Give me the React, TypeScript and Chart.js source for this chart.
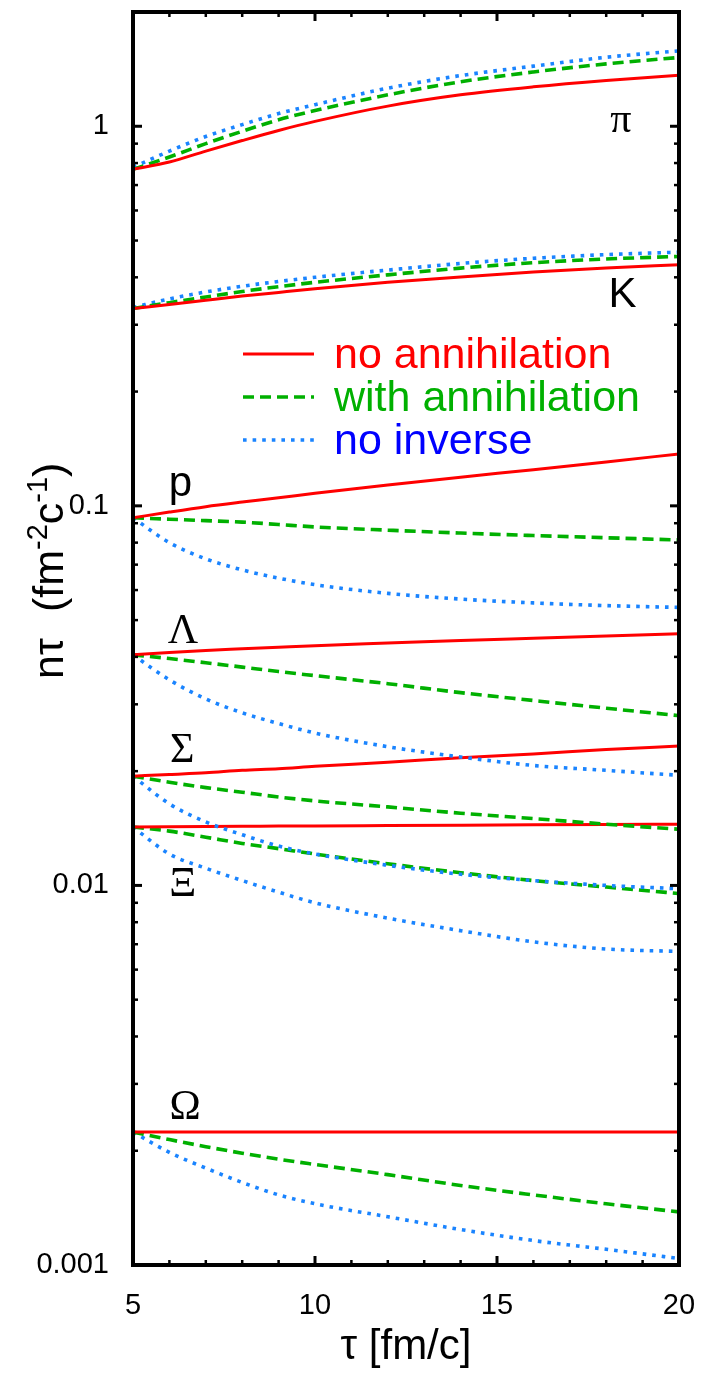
import React, { useEffect, useRef } from 'react';
import { Chart, registerables } from 'chart.js';

Chart.register(...registerables);

// ---------- data ----------
const tau = [5, 6, 7, 8, 9, 10, 12, 14, 16, 18, 20];

const piNoAnn = [0.77, 0.805, 0.86, 0.917, 0.975, 1.03, 1.13, 1.21, 1.27, 1.32, 1.363];
const piWithAnn = [0.77, 0.83, 0.9, 0.97, 1.04, 1.1, 1.21, 1.31, 1.39, 1.46, 1.518];
const piNoInv = [0.78, 0.86, 0.94, 1.01, 1.08, 1.14, 1.26, 1.36, 1.44, 1.52, 1.58];

const kNoAnn = [0.331, 0.339, 0.348, 0.357, 0.365, 0.373, 0.388, 0.401, 0.413, 0.423, 0.432];
const kWithAnn = [0.331, 0.343, 0.355, 0.367, 0.378, 0.388, 0.406, 0.423, 0.437, 0.447, 0.454];
const kNoInv = [0.333, 0.351, 0.366, 0.379, 0.39, 0.4, 0.418, 0.435, 0.449, 0.459, 0.466];

const pNoAnn = [0.093, 0.0963, 0.0995, 0.1023, 0.105, 0.108, 0.1135, 0.119, 0.1245, 0.1305, 0.137];
const pWithAnn = [0.093, 0.0922, 0.0914, 0.0906, 0.0893, 0.088, 0.0863, 0.0848, 0.0835, 0.0824, 0.0813];
const pNoInv = [0.093, 0.08, 0.0725, 0.0678, 0.0645, 0.062, 0.0588, 0.0568, 0.0555, 0.0546, 0.054];

const lamNoAnn = [0.0405, 0.0411, 0.0416, 0.042, 0.0424, 0.0428, 0.0435, 0.0442, 0.0448, 0.0454, 0.046];
const lamWithAnn = [0.0405, 0.0396, 0.0386, 0.0376, 0.0366, 0.0357, 0.034, 0.0322, 0.0307, 0.0293, 0.028];
const lamNoInv = [0.0405, 0.0348, 0.031, 0.0285, 0.0267, 0.0252, 0.0232, 0.0218, 0.0207, 0.0201, 0.0195];

const sigNoAnn = [0.0194, 0.0196, 0.0198, 0.0201, 0.0203, 0.0206, 0.0211, 0.0217, 0.0222, 0.0228, 0.0233];
const sigWithAnn = [0.0194, 0.0187, 0.0181, 0.0176, 0.0171, 0.0167, 0.0161, 0.0155, 0.015, 0.0145, 0.01406];
const sigNoInv = [0.0194, 0.0164, 0.0147, 0.0136, 0.0127, 0.0121, 0.0113, 0.0107, 0.0103, 0.01, 0.0098];

const xiNoAnn = [0.01425, 0.01427, 0.01429, 0.01431, 0.01433, 0.01435, 0.01438, 0.01441, 0.01444, 0.01447, 0.0145];
const xiWithAnn = [0.01425, 0.0139, 0.0134, 0.0129, 0.0125, 0.0121, 0.0114, 0.0108, 0.0103, 0.0099, 0.00952];
const xiNoInv = [0.01425, 0.0121, 0.0111, 0.0103, 0.0096, 0.009, 0.0082, 0.0076, 0.0071, 0.0068, 0.0067];

const omNoAnn = [0.00224, 0.00224, 0.00224, 0.00224, 0.00224, 0.00224, 0.00224, 0.00224, 0.00224, 0.00224, 0.00224];
const omWithAnn = [0.00224, 0.00214, 0.00205, 0.00197, 0.0019, 0.00184, 0.00173, 0.00162, 0.00153, 0.00145, 0.00138];
const omNoInv = [0.00224, 0.00198, 0.0018, 0.00165, 0.00153, 0.00145, 0.00134, 0.00124, 0.00116, 0.0011, 0.00104];

const xMajorTicks = [5, 10, 15, 20];
const xMinorTicks = [6, 7, 8, 9, 11, 12, 13, 14, 16, 17, 18, 19];
const yMajorTicks = [0.001, 0.01, 0.1, 1];
const yTickLabels = ['0.001', '0.01', '0.1', '1'];
const yMinorTicks = [
  0.002, 0.003, 0.004, 0.005, 0.006, 0.007, 0.008, 0.009,
  0.02, 0.03, 0.04, 0.05, 0.06, 0.07, 0.08, 0.09,
  0.2, 0.3, 0.4, 0.5, 0.6, 0.7, 0.8, 0.9,
];

const scenarioNames = ['no annihilation', 'with annihilation', 'no inverse'];

// species label anchors in data space
const speciesLabels = [
  { text: 'π', tau: 18.4, v: 1.03, serif: true },
  { text: 'K', tau: 18.45, v: 0.358, serif: false },
  { text: 'p', tau: 6.3, v: 0.1136, serif: false },
  { text: 'Λ', tau: 6.37, v: 0.0465, serif: true },
  { text: 'Σ', tau: 6.35, v: 0.0226, serif: true },
  { text: 'Ξ', tau: 6.37, v: 0.01, serif: true },
  { text: 'Ω', tau: 6.43, v: 0.00259, serif: true },
];

const species = [
  [piNoAnn, piWithAnn, piNoInv],
  [kNoAnn, kWithAnn, kNoInv],
  [pNoAnn, pWithAnn, pNoInv],
  [lamNoAnn, lamWithAnn, lamNoInv],
  [sigNoAnn, sigWithAnn, sigNoInv],
  [xiNoAnn, xiWithAnn, xiNoInv],
  [omNoAnn, omWithAnn, omNoInv],
];

// ---------- styles ----------
const SANS = '"Liberation Sans", Arial, Helvetica, sans-serif';
const SERIF = '"Liberation Serif", "Times New Roman", serif';
const RED = '#ff0000';
const GREEN = '#00b000';
const BLUE = '#1a84ff';
const TEXT_COLORS = ['#ff0000', '#00b000', '#0000ff'];
const LINE_STYLES = [
  { color: RED, width: 3, dash: [] as number[] },
  { color: GREEN, width: 3.6, dash: [11, 6] },
  { color: BLUE, width: 3.6, dash: [3.6, 6] },
];

const framePlugin = {
  id: 'frame',
  afterDatasetsDraw(chart: any) {
    const { ctx, chartArea: a, scales } = chart;
    const xs = scales.x;
    const ys = scales.y;
    ctx.save();
    ctx.strokeStyle = '#000';
    ctx.lineCap = 'butt';
    const tick = (x1: number, y1: number, x2: number, y2: number) => {
      ctx.beginPath();
      ctx.moveTo(x1, y1);
      ctx.lineTo(x2, y2);
      ctx.stroke();
    };
    ctx.lineWidth = 3;
    xMajorTicks.forEach((v) => {
      const px = xs.getPixelForValue(v);
      tick(px, a.bottom, px, a.bottom - 9);
      tick(px, a.top, px, a.top + 9);
    });
    yMajorTicks.forEach((v) => {
      const py = ys.getPixelForValue(v);
      tick(a.left, py, a.left + 9, py);
      tick(a.right, py, a.right - 9, py);
    });
    ctx.lineWidth = 2.5;
    xMinorTicks.forEach((v) => {
      const px = xs.getPixelForValue(v);
      tick(px, a.bottom, px, a.bottom - 5);
      tick(px, a.top, px, a.top + 5);
    });
    yMinorTicks.forEach((v) => {
      const py = ys.getPixelForValue(v);
      tick(a.left, py, a.left + 5, py);
      tick(a.right, py, a.right - 5, py);
    });
    ctx.lineWidth = 4;
    ctx.strokeRect(a.left, a.top, a.right - a.left, a.bottom - a.top);
    ctx.restore();
  },
};

const annotationPlugin = {
  id: 'annotations',
  afterDraw(chart: any) {
    const { ctx, chartArea: a, scales } = chart;
    const xs = scales.x;
    const ys = scales.y;
    ctx.save();

    // species labels
    ctx.fillStyle = '#000';
    ctx.textAlign = 'center';
    ctx.textBaseline = 'middle';
    speciesLabels.forEach((l) => {
      ctx.font = l.serif ? `42px ${SERIF}` : `42px ${SANS}`;
      ctx.fillText(l.text, xs.getPixelForValue(l.tau), ys.getPixelForValue(l.v));
    });

    // legend
    const lx0 = a.left + 110;
    const lx1 = a.left + 181;
    const ly = [354, 397, 440];
    ctx.textAlign = 'left';
    ctx.textBaseline = 'alphabetic';
    ctx.font = `43px ${SANS}`;
    scenarioNames.forEach((name, i) => {
      const st = LINE_STYLES[i];
      ctx.strokeStyle = st.color;
      ctx.lineWidth = st.width;
      ctx.setLineDash(st.dash);
      ctx.beginPath();
      ctx.moveTo(lx0, ly[i]);
      ctx.lineTo(lx1, ly[i]);
      ctx.stroke();
      ctx.setLineDash([]);
      ctx.fillStyle = TEXT_COLORS[i];
      ctx.fillText(name, a.left + 201, ly[i] + 14);
    });

    // y axis title (rotated, with superscripts)
    ctx.fillStyle = '#000';
    ctx.translate(63, 679);
    ctx.rotate(-Math.PI / 2);
    ctx.textBaseline = 'alphabetic';
    let x = 0;
    const put = (s: string, size: number, rise: number) => {
      ctx.font = `${size}px ${SANS}`;
      ctx.fillText(s, x, -rise);
      x += ctx.measureText(s).width;
    };
    put('nτ', 43, 0);
    x += 26;
    put('(fm', 43, 0);
    put('-2', 29, 16);
    put('c', 43, 0);
    put('-1', 29, 16);
    put(')', 43, 0);

    ctx.restore();
  },
};

const zeroPad = (s: any) => {
  s.paddingTop = 0;
  s.paddingBottom = 0;
  s.paddingLeft = 0;
  s.paddingRight = 0;
};

export default function App() {
  const ref = useRef<HTMLCanvasElement | null>(null);

  useEffect(() => {
    if (!ref.current) return;
    const datasets: any[] = [];
    species.forEach((group) => {
      group.forEach((vals, si) => {
        const st = LINE_STYLES[si];
        datasets.push({
          label: scenarioNames[si],
          data: tau.map((t, i) => ({ x: t, y: vals[i] })),
          borderColor: st.color,
          borderWidth: st.width,
          borderDash: st.dash,
          borderCapStyle: 'butt',
          pointRadius: 0,
          fill: false,
          cubicInterpolationMode: 'monotone',
        });
      });
    });

    const chart = new Chart(ref.current, {
      type: 'line',
      data: { datasets },
      plugins: [framePlugin, annotationPlugin],
      options: {
        animation: false,
        responsive: false,
        maintainAspectRatio: false,
        layout: { padding: { top: 12, right: 23, left: 0, bottom: 0 } },
        plugins: { legend: { display: false }, tooltip: { enabled: false } },
        scales: {
          x: {
            type: 'linear',
            min: 5,
            max: 20,
            afterFit: (s: any) => {
              s.height = 108;
              zeroPad(s);
            },
            afterBuildTicks: (s: any) => {
              s.ticks = xMajorTicks.map((v) => ({ value: v }));
            },
            grid: { display: false, drawTicks: false },
            border: { display: false },
            ticks: {
              color: '#000',
              font: { family: SANS, size: 29 },
              padding: 24,
              maxRotation: 0,
              autoSkip: false,
              callback: (v: any) => String(v),
            },
            title: {
              display: true,
              text: 'τ [fm/c]',
              color: '#000',
              font: { family: SANS, size: 42 },
              padding: 0,
            },
          },
          y: {
            type: 'logarithmic',
            min: 0.001,
            max: 2,
            afterFit: (s: any) => {
              s.width = 133;
              zeroPad(s);
            },
            afterBuildTicks: (s: any) => {
              s.ticks = yMajorTicks.map((v) => ({ value: v }));
            },
            grid: { display: false, drawTicks: false },
            border: { display: false },
            ticks: {
              color: '#000',
              font: { family: SANS, size: 29 },
              padding: 24,
              autoSkip: false,
              callback: (_v: any, i: number) => yTickLabels[i],
            },
          },
        },
      } as any,
    });
    return () => chart.destroy();
  }, []);

  return (
    <div style={{ position: 'fixed', left: 0, top: 0, width: 702, height: 1373, background: '#fff' }}>
      <canvas ref={ref} width={702} height={1373} style={{ display: 'block', width: 702, height: 1373 }} />
    </div>
  );
}
